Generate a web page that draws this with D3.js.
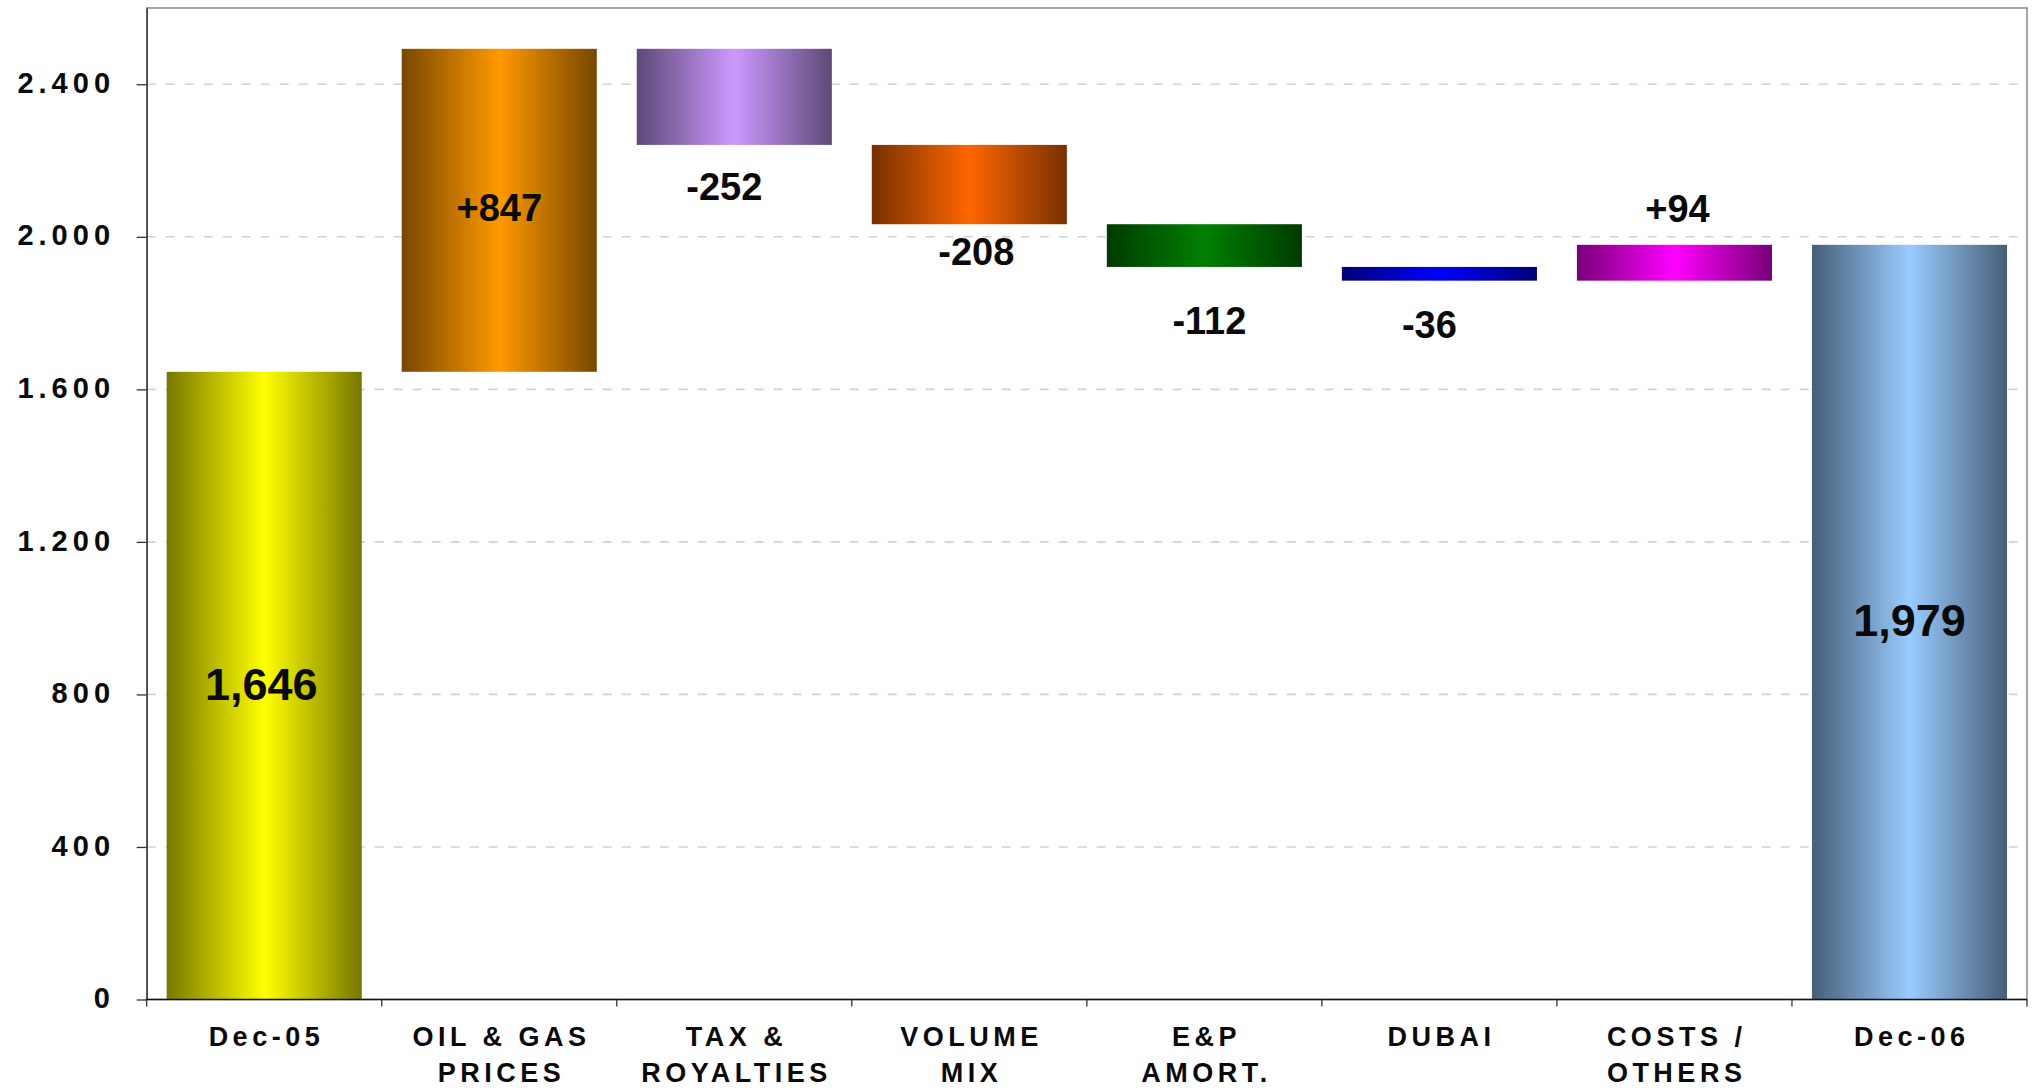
<!DOCTYPE html>
<html>
<head>
<meta charset="utf-8">
<script src="https://cdn.jsdelivr.net/npm/d3@7"></script>
<style>
  html, body { margin: 0; padding: 0; background: #fff; }
  svg { display: block; font-family: "Liberation Sans", Arial, sans-serif; }
</style>
</head>
<body>
<svg id="chart" width="2033" height="1088"></svg>
<script>
// Net income bridge, Dec-05 to Dec-06
const categories = [
  ["Dec-05"],
  ["OIL & GAS", "PRICES"],
  ["TAX &", "ROYALTIES"],
  ["VOLUME", "MIX"],
  ["E&P", "AMORT."],
  ["DUBAI"],
  ["COSTS /", "OTHERS"],
  ["Dec-06"]
];
const values = [1646, 847, -252, -208, -112, -36, 94, 1979];
const kinds = ["total", "delta", "delta", "delta", "delta", "delta", "delta", "total"];
const valueLabels = ["1,646", "+847", "-252", "-208", "-112", "-36", "+94", "1,979"];
const yTicks = [0, 400, 800, 1200, 1600, 2000, 2400];
const yTickLabels = ["0", "400", "800", "1.200", "1.600", "2.000", "2.400"];

// Fill of each bar: [edge colour, centre colour]
const barColors = [
  ["#777700", "#ffff00"],
  ["#774700", "#ff9900"],
  ["#5d4977", "#cc99ff"],
  ["#773000", "#ff6600"],
  ["#003b00", "#008000"],
  ["#000077", "#0000ff"],
  ["#770077", "#ff00ff"],
  ["#475e77", "#99ccff"]
];

// Where each value label sits relative to its bar, with small pixel nudges
const labelPlacement = ["center", "center", "below", "below", "below", "below", "above", "center"];
const labelNudge = [[-3, 14], [0, 11], [-10, 55], [7, 41], [5, 67], [-10, 57], [3, -23], [0, 14]];

const svg = d3.select("#chart");
const m = { left: 146.7, right: 2027, top: 8, bottom: 999.5 };

const x = d3.scaleBand()
  .domain(d3.range(categories.length))
  .range([m.left, m.right])
  .paddingInner(0.17)
  .paddingOuter(0.085);

const y = d3.scaleLinear().domain([0, 2600]).range([m.bottom, m.top]);

// Running totals for the floating bars
let run = 0;
const bars = values.map((v, i) => {
  let lo, hi;
  if (kinds[i] === "total") { lo = 0; hi = v; run = v; }
  else { const s = run; run = s + v; lo = Math.min(s, run); hi = Math.max(s, run); }
  return { i, v, lo, hi };
});

// Gradients: dark edges, bright centre
const defs = svg.append("defs");
barColors.forEach((c, i) => {
  const g = defs.append("linearGradient")
    .attr("id", "grad" + i).attr("x1", "0%").attr("x2", "100%").attr("y1", "0%").attr("y2", "0%");
  g.append("stop").attr("offset", "0%").attr("stop-color", c[0]);
  g.append("stop").attr("offset", "50%").attr("stop-color", c[1]);
  g.append("stop").attr("offset", "100%").attr("stop-color", c[0]);
});

// Gridlines
svg.append("g")
  .selectAll("line")
  .data(yTicks.filter(t => t > 0))
  .join("line")
  .attr("x1", m.left).attr("x2", m.right)
  .attr("y1", d => y(d)).attr("y2", d => y(d))
  .attr("stroke", "#d2d2d2").attr("stroke-width", 1.6)
  .attr("stroke-dasharray", "9 10");

// Plot frame
svg.append("rect")
  .attr("x", m.left).attr("y", y(2600))
  .attr("width", m.right - m.left).attr("height", m.bottom - y(2600))
  .attr("fill", "none").attr("stroke", "#808080").attr("stroke-width", 1.4);

// Bars
svg.append("g")
  .selectAll("rect")
  .data(bars)
  .join("rect")
  .attr("x", d => x(d.i))
  .attr("width", x.bandwidth())
  .attr("y", d => y(d.hi))
  .attr("height", d => y(d.lo) - y(d.hi))
  .attr("fill", d => `url(#grad${d.i})`);

// Y axis
const yAxis = d3.axisLeft(y)
  .tickValues(yTicks)
  .tickFormat((d, i) => yTickLabels[i])
  .tickSize(10)
  .tickSizeOuter(0);
const yG = svg.append("g").attr("transform", `translate(${m.left},0)`).call(yAxis);
yG.select(".domain").attr("stroke", "#333").attr("stroke-width", 1.3);
yG.selectAll(".tick line").attr("stroke", "#333").attr("stroke-width", 1.3);
yG.selectAll(".tick text")
  .attr("x", -31.7)
  .attr("dy", "0.28em")
  .attr("fill", "#0a0a0a")
  .style("font-family", "'Liberation Sans', Arial, sans-serif")
  .style("font-size", "29px")
  .style("font-weight", "bold")
  .style("letter-spacing", "5px");

// X axis: ticks on the category boundaries
const boundaries = d3.range(categories.length + 1).map(i => m.left + i * x.step());
const xG = svg.append("g");
xG.append("line")
  .attr("x1", m.left - 1).attr("x2", m.right)
  .attr("y1", m.bottom).attr("y2", m.bottom)
  .attr("stroke", "#111").attr("stroke-width", 1.4);
xG.selectAll("line.tk")
  .data(boundaries)
  .join("line").attr("class", "tk")
  .attr("x1", d => d).attr("x2", d => d)
  .attr("y1", m.bottom).attr("y2", m.bottom + 7)
  .attr("stroke", "#333").attr("stroke-width", 1.3);

const xl = svg.append("g")
  .selectAll("text")
  .data(categories)
  .join("text")
  .attr("text-anchor", "middle")
  .attr("fill", "#0a0a0a")
  .style("font-size", "27px")
  .style("font-weight", "bold")
  .style("letter-spacing", "4.5px");
xl.each(function (lines, i) {
  const t = d3.select(this);
  lines.forEach((ln, k) => {
    t.append("tspan")
      .attr("x", x(i) + x.bandwidth() / 2 + 2.2)
      .attr("y", 1046 + k * 36)
      .text(ln);
  });
});

// Value labels
svg.append("g")
  .selectAll("text")
  .data(bars)
  .join("text")
  .attr("text-anchor", "middle")
  .attr("fill", "#0a0a0a")
  .style("font-weight", "bold")
  .style("font-size", d => kinds[d.i] === "total" ? "45px" : "38px")
  .attr("x", d => x(d.i) + x.bandwidth() / 2 + labelNudge[d.i][0])
  .attr("y", d => {
    const p = labelPlacement[d.i];
    const base = p === "center" ? (y(d.lo) + y(d.hi)) / 2 : p === "below" ? y(d.lo) : y(d.hi);
    return base + labelNudge[d.i][1];
  })
  .text(d => valueLabels[d.i]);
</script>
</body>
</html>
